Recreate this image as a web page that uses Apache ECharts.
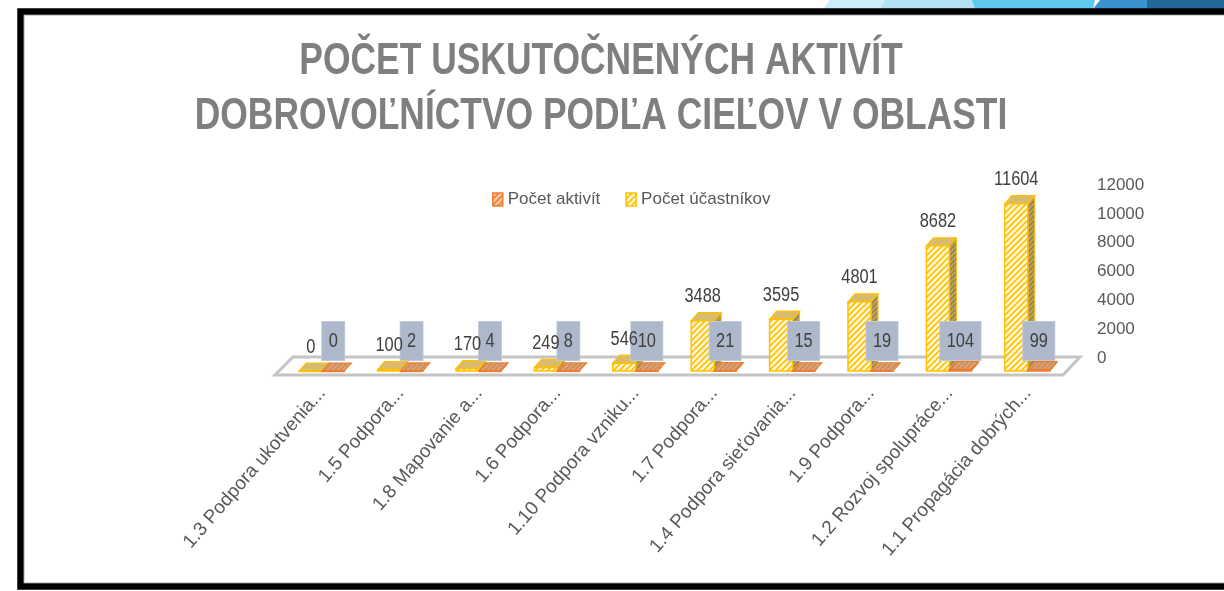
<!DOCTYPE html>
<html>
<head>
<meta charset="utf-8">
<title>Počet uskutočnených aktivít</title>
<script src="https://cdn.jsdelivr.net/npm/echarts@6/dist/echarts.min.js"></script>
<style>
  html, body { margin: 0; padding: 0; background: #fff; }
  #chart { width: 1224px; height: 591px; }
</style>
</head>
<body>
<div id="chart"></div>
<script>
// data
const categories = [
  '1.3 Podpora ukotvenia...',
  '1.5 Podpora...',
  '1.8 Mapovanie a...',
  '1.6 Podpora...',
  '1.10 Podpora vzniku...',
  '1.7 Podpora...',
  '1.4 Podpora sieťovania...',
  '1.9 Podpora...',
  '1.2 Rozvoj spolupráce...',
  '1.1 Propagácia dobrých...'
];
const participants = [0, 100, 170, 249, 546, 3488, 3595, 4801, 8682, 11604];
const activities = [0, 2, 4, 8, 10, 21, 15, 19, 104, 99];
const seriesNames = ['Počet aktivít', 'Počet účastníkov'];
const yMin = 0, yMax = 12000, yStep = 2000;
const titleLines = ['POČET USKUTOČNENÝCH AKTIVÍT', 'DOBROVOĽNÍCTVO PODĽA CIEĽOV V OBLASTI'];

const FONT = '"Liberation Sans", Arial, sans-serif';
const TXT = '#595959';
const NARROW = 0.82; // the source text is a condensed face

// fake 3d
const DEPTH_X = 7, DEPTH_Y = 8, FRONT_DY = 13;

function hatch(bg, line, size, width) {
  const c = document.createElement('canvas');
  c.width = c.height = size;
  const g = c.getContext('2d');
  g.fillStyle = bg;
  g.fillRect(0, 0, size, size);
  g.strokeStyle = line;
  g.lineWidth = width;
  g.beginPath();
  g.moveTo(-1, size + 1); g.lineTo(size + 1, -1);
  g.moveTo(-1, 1); g.lineTo(1, -1);
  g.moveTo(size - 1, size + 1); g.lineTo(size + 1, size - 1);
  g.stroke();
  return { image: c, repeat: 'repeat' };
}

const yellow = {
  front: hatch('#fff6d6', '#ffc000', 6, 1.6),
  side: hatch('#b9a063', '#8f7a3f', 5, 1.2),
  top: hatch('#cdb888', '#f2c230', 5, 1.2),
  edge: '#ffc000'
};
const orange = {
  front: hatch('#f8cbad', '#ed7d31', 6, 1.6),
  side: hatch('#b68a5c', '#ed7d31', 5, 1.2),
  top: hatch('#c7a98a', '#ed7d31', 5, 1.3),
  edge: '#ed7d31'
};

function box(x0, x1, yTop, yBase, f) {
  const dx = DEPTH_X, dy = DEPTH_Y;
  return [
    { type: 'polygon', shape: { points: [[x1, yTop], [x1 + dx, yTop - dy], [x1 + dx, yBase - dy], [x1, yBase]] },
      style: { fill: f.side, stroke: f.edge, lineWidth: 1 } },
    { type: 'polygon', shape: { points: [[x0, yTop], [x0 + dx, yTop - dy], [x1 + dx, yTop - dy], [x1, yTop]] },
      style: { fill: f.top, stroke: f.edge, lineWidth: 1.2 } },
    { type: 'rect', shape: { x: x0, y: yTop, width: x1 - x0, height: Math.max(yBase - yTop, 0.5) },
      style: { fill: f.front, stroke: f.edge, lineWidth: 1.5 } }
  ];
}

// yellow bar = left half of the category, orange = right half
function renderYellow(params, api) {
  const i = api.value(0), v = api.value(1);
  const base = api.coord([i, 0]);
  const top = api.coord([i, v]);
  const x1 = base[0];
  return { type: 'group', children: box(x1 - 23, x1, top[1] + FRONT_DY, base[1] + FRONT_DY, yellow) };
}

function renderYellowLabel(params, api) {
  const i = api.value(0), v = api.value(1);
  const base = api.coord([i, 0]);
  const top = api.coord([i, v]);
  return {
    type: 'text',
    x: base[0] - 11.5, y: top[1] + FRONT_DY - DEPTH_Y - 6, scaleX: NARROW,
    style: { text: String(v), x: 0, y: 0, align: 'center', verticalAlign: 'bottom',
      font: '20px ' + FONT, fill: '#404040' }
  };
}

function renderOrange(params, api) {
  const i = api.value(0), v = api.value(1);
  const base = api.coord([i, 0]);
  const top = api.coord([i, v]);
  const yb = base[1] + FRONT_DY, yt = top[1] + FRONT_DY;
  const x0 = base[0], x1 = x0 + 22;
  const kids = box(x0, x1, yt, yb, orange);
  kids.push({
    type: 'text',
    x: (x0 + x1) / 2, y: yb - 11, scaleX: NARROW,
    style: { text: String(v), x: 0, y: 0, align: 'center', verticalAlign: 'bottom',
      font: '20px ' + FONT, fill: '#404040', lineHeight: 20,
      backgroundColor: '#adb9ca', borderColor: '#c2cad6', borderWidth: 1, padding: [9, 8, 9, 8] }
  });
  return { type: 'group', children: kids };
}

// floor plane under the bars, from the grid rect
function renderFloor(params) {
  const cs = params.coordSys;
  const x0 = cs.x, x1 = cs.x + cs.width, y = cs.y + cs.height;
  return {
    type: 'polygon',
    shape: { points: [[x0 + 10, y - 1], [x1 + 13, y - 1], [x1 - 4, y + 17], [x0 - 8, y + 17]] },
    style: { fill: '#fff', stroke: '#c4c4c4', lineWidth: 3 }
  };
}

const participantData = participants.map((v, i) => [i, v]);

const chart = echarts.init(document.getElementById('chart'));
chart.setOption({
  animation: false,
  backgroundColor: '#fff',
  legend: {
    left: 487,
    top: 186,
    itemWidth: 10,
    itemHeight: 13,
    itemGap: 25,
    icon: 'rect',
    textStyle: { color: TXT, fontSize: 17, fontFamily: FONT },
    data: [
      { name: seriesNames[0], itemStyle: { color: orange.front, borderColor: orange.edge, borderWidth: 1.5 } },
      { name: seriesNames[1], itemStyle: { color: yellow.front, borderColor: yellow.edge, borderWidth: 1.5 } }
    ]
  },
  grid: { left: 283, right: 157, top: 185, bottom: 233 },
  xAxis: {
    type: 'category',
    data: categories,
    axisLine: { show: false },
    axisTick: { show: false },
    axisLabel: { interval: 0, rotate: 49, margin: 32, color: TXT, fontSize: 19, fontFamily: FONT }
  },
  yAxis: {
    type: 'value',
    position: 'right',
    min: yMin,
    max: yMax,
    interval: yStep,
    axisLine: { show: false },
    axisTick: { show: false },
    splitLine: { show: false },
    axisLabel: { margin: 30, color: TXT, fontSize: 17, fontFamily: FONT, formatter: (v) => String(v) }
  },
  series: [
    { type: 'custom', name: 'floor', z: 1, silent: true, renderItem: renderFloor, data: [[0, 0]] },
    { type: 'custom', name: seriesNames[1], z: 2, renderItem: renderYellow,
      itemStyle: { color: '#ffc000' }, encode: { x: 0, y: 1 }, data: participantData },
    { type: 'custom', name: seriesNames[0], z: 3, renderItem: renderOrange,
      itemStyle: { color: '#ed7d31' }, encode: { x: 0, y: 1 },
      data: activities.map((v, i) => [i, v]) },
    // participant numbers sit on top of the grey boxes
    { type: 'custom', name: 'participant labels', z: 4, silent: true, renderItem: renderYellowLabel,
      encode: { x: 0, y: 1 }, data: participantData }
  ],
  graphic: [
    // title, condensed
    { type: 'text', x: 601, y: 34, scaleX: 0.787,
      style: { text: titleLines.join('\n'), x: 0, y: 0, align: 'center', verticalAlign: 'top',
        font: 'bold 45px ' + FONT, lineHeight: 55, fill: '#7f7f7f' } },
    // slide decoration at the top right
    { type: 'polygon', shape: { points: [[823, 9], [830, 0], [885, 0], [880, 9]] }, style: { fill: '#cdeef9' } },
    { type: 'polygon', shape: { points: [[880, 9], [885, 0], [975, 0], [975, 9]] }, style: { fill: '#b1e2f4' } },
    { type: 'polygon', shape: { points: [[975, 9], [972, 0], [1095, 0], [1093, 9]] }, style: { fill: '#5ec9ec' } },
    { type: 'polygon', shape: { points: [[1093, 9], [1100, 0], [1147, 0], [1147, 9]] }, style: { fill: '#3a93cf' } },
    { type: 'rect', shape: { x: 1147, y: 0, width: 77, height: 9 }, style: { fill: '#23689b' } },
    // picture frame
    { type: 'rect', shape: { x: 20.5, y: 11.5, width: 1220, height: 575 },
      style: { fill: null, stroke: '#000', lineWidth: 6.5 } },
    { type: 'rect', shape: { x: 24.5, y: 15.5, width: 1210, height: 567 },
      style: { fill: null, stroke: '#d4d4d4', lineWidth: 1.2 } }
  ]
});
</script>
</body>
</html>
